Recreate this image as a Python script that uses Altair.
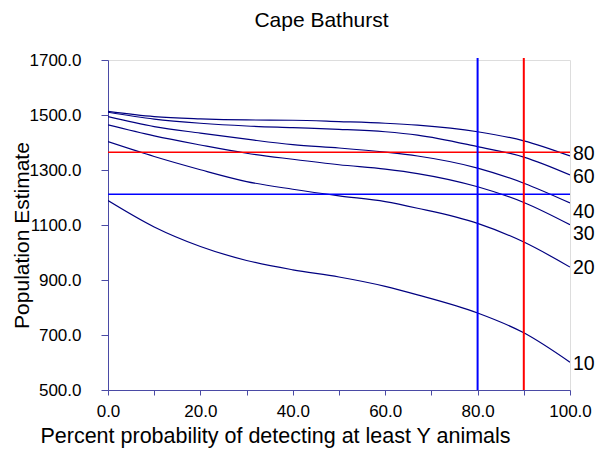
import altair as alt
import pandas as pd

# Percent probability values (x) at which curves were read
x_vals = [0, 10, 20, 30, 40, 50, 60, 67, 80, 90, 100]
series_names = ["80", "60", "40", "30", "20", "10"]
y80 = [1513, 1494, 1486, 1482, 1481, 1476, 1470, 1463, 1439, 1406, 1351]
y60 = [1510, 1485, 1470, 1460, 1454, 1448, 1439, 1427, 1385, 1347, 1282]
y40 = [1494, 1458, 1434, 1412, 1392, 1380, 1365, 1351, 1307, 1252, 1180]
y30 = [1464, 1424, 1391, 1361, 1339, 1319, 1303, 1287, 1239, 1182, 1101]
y20 = [1403, 1349, 1301, 1258, 1230, 1206, 1185, 1161, 1106, 1038, 947]
y10 = [1189, 1093, 1022, 971, 937, 911, 877, 846, 780, 708, 601]
label_y = [1359, 1273, 1146, 1068, 945, 596]

h_red, h_blue = 1365, 1212
v_blue, v_red = 80, 90
title_text = "Cape Bathurst"

rows = []
for name, ys in zip(series_names, [y80, y60, y40, y30, y20, y10]):
    for xv, yv in zip(x_vals, ys):
        rows.append({"series": name, "x": xv, "y": yv})
curves_df = pd.DataFrame(rows)
labels_df = pd.DataFrame({"series": series_names, "x": [100] * 6, "y": label_y})

FONT = "Liberation Sans"
AX = "#4a4aa5"
W, H = 462, 330

xscale = alt.Scale(domain=[0, 100], nice=False, zero=False)
yscale = alt.Scale(domain=[500, 1700], nice=False, zero=False)

xaxis = alt.Axis(
    values=list(range(0, 101, 5)), format=".1f",
    labelExpr="datum.value % 20 == 0 ? format(datum.value, '.1f') : ''",
    grid=False, domainColor=AX, tickColor=AX, tickSize=5, labelPadding=8,
    labelFont=FONT, labelFontSize=17, labelColor="black", labelFlush=False,
    title="Percent probability of detecting at least Y animals",
    titleFont=FONT, titleFontSize=21.5, titleFontWeight="normal", titleColor="black",
    titleX=167, titleY=52, titleBaseline="alphabetic", titleAnchor="start", titleAlign="center",
)
yaxis = alt.Axis(
    values=list(range(500, 1701, 100)), format=".1f",
    labelExpr="datum.value % 200 == 100 ? format(datum.value, '.1f') : ''",
    grid=False, domainColor=AX, tickColor=AX, tickSize=7, labelPadding=20,
    labelFont=FONT, labelFontSize=17, labelColor="black", labelFlush=False,
    title="Population Estimate",
    titleFont=FONT, titleFontSize=21, titleFontWeight="normal", titleColor="black",
    titleX=-86, titleY=175, titleAngle=270, titleBaseline="middle", titleAlign="center",
)

curves = alt.Chart(curves_df).mark_line(
    color="#000080", strokeWidth=1.2, interpolate="monotone", clip=True
).encode(
    x=alt.X("x:Q", scale=xscale, axis=xaxis),
    y=alt.Y("y:Q", scale=yscale, axis=yaxis),
    detail="series:N",
)

hrules = alt.Chart(pd.DataFrame({"y": [h_red, h_blue], "c": ["#ff0000", "#0000ff"]})).mark_rule(
    strokeWidth=1.5
).encode(y=alt.Y("y:Q", scale=yscale), color=alt.Color("c:N", scale=None))

vrules = alt.Chart(pd.DataFrame({"x": [v_blue, v_red], "c": ["#0000ff", "#ff0000"]})).mark_rule(
    strokeWidth=2
).encode(x=alt.X("x:Q", scale=xscale), color=alt.Color("c:N", scale=None),
         y=alt.value(-2), y2=alt.value(H))

labels = alt.Chart(labels_df).mark_text(
    align="left", baseline="middle", dx=3, font=FONT, fontSize=19.5, color="black"
).encode(x=alt.X("x:Q", scale=xscale), y=alt.Y("y:Q", scale=yscale), text="series:N")

title = alt.Chart(pd.DataFrame({"t": [title_text]})).mark_text(
    align="center", baseline="alphabetic", font=FONT, fontSize=21, color="black"
).encode(x=alt.value(213.5), y=alt.value(-33), text="t:N")

chart = alt.layer(curves, hrules, vrules, labels, title).properties(
    width=W, height=H,
    autosize=alt.AutoSizeParams(type="none"),
    padding={"left": 100, "top": 52, "right": 25, "bottom": 58},
).configure_view(stroke=None).configure(background="white")

chart.save("out.html", embed_options={"renderer": "svg", "actions": False})
